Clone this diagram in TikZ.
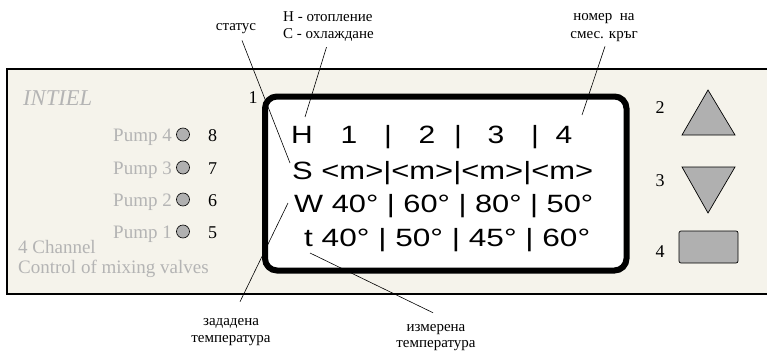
\documentclass[tikz,border=0pt]{standalone}
\usepackage{fontspec}
\setmainfont{Liberation Serif}
\newfontfamily\lcdfont{Liberation Sans}
\usetikzlibrary{calc}
\definecolor{panelbg}{HTML}{F5F3EB}
\definecolor{graytxt}{HTML}{B4B4B4}
\definecolor{btn}{HTML}{B0B0B0}
\tikzset{
  lbl/.style={inner sep=0pt, font=\fontsize{15}{17}\selectfont, anchor=base},
  gtxt/.style={inner sep=0pt, text=graytxt, font=\fontsize{19}{19}\selectfont},
  num/.style={inner sep=0pt, font=\fontsize{18}{18}\selectfont, anchor=base},
  lcd/.style={inner sep=0pt, font=\fontsize{25}{25}\lcdfont, anchor=base west},
  lcdc/.style={inner sep=0pt, font=\fontsize{25}{25}\lcdfont, anchor=base},
  pled/.style={circle, draw=black, line width=0.6pt, fill=btn, minimum size=13pt, inner sep=0pt},
  conn/.style={line width=0.6pt, black},
}
\begin{document}
\begin{tikzpicture}[x=1pt,y=-1pt]
\useasboundingbox (0,0) rectangle (767,353);
% panel
\fill[panelbg] (7,69) rectangle (770,294);
\draw[line width=2pt] (770,69) -- (7,69) -- (7,294) -- (770,294);
% display
\draw[line width=6pt, fill=white, rounded corners=12pt] (265,96.5) rectangle (626.5,270.5);
% display text
\foreach \t/\x [count=\i] in {H/302,1/349,|/388,2/427,|/458,3/496,|/535,4/564}
  \node[lcdc, name=hr\i] at (\x,143) {\resizebox{1.2\width}{\height}{\t}};
\node[lcd] (rowS) at (292,179) {\resizebox{301pt}{\height}{S <m>|<m>|<m>|<m>}};
\node[lcd] (rowW) at (294,212) {\resizebox{299pt}{\height}{W 40° | 60° | 80° | 50°}};
\node[lcd] (rowT) at (304,246) {\resizebox{286pt}{\height}{t 40° | 50° | 45° | 60°}};
% left side
\node[gtxt, anchor=base west, font=\fontsize{22.6}{22.6}\selectfont\itshape] (intiel) at (23,105) {INTIEL};
\foreach \n/\y/\k in {4/141/8,3/174/7,2/206/6,1/238/5}{
  \node[gtxt, anchor=base east] (pump\n) at (172,\y) {Pump \n};
  \node[pled] (led\n) at (183,\y-6.5) {};
  \node[num] (pn\n) at (212.5,\y) {\k};
}
\node[gtxt, anchor=base west] (chan) at (18,253) {4 Channel};
\node[gtxt, anchor=base west] (ctrl) at (18,273) {Control of mixing valves};
\node[num] (one) at (253,103) {1};
% right side buttons
\node[num] (two) at (660,113) {2};
\node[num] (three) at (660,186) {3};
\node[num] (four) at (660,257) {4};
\draw[line width=0.7pt, fill=btn, line join=miter] (708,90) -- (735,135) -- (682,135) -- cycle;
\draw[line width=0.7pt, fill=btn, line join=miter] (682,167) -- (735,167) -- (708,213) -- cycle;
\draw[line width=0.7pt, fill=btn, rounded corners=2pt] (679,231) rectangle (738,263);
% labels
\node[lbl] (stat) at (236,31) {статус};
\node[lbl, anchor=base west] (mode1) at (283,22) {H - отопление};
\node[lbl, anchor=base west] (mode2) at (283,38) {С - охлаждане};
\node[lbl] (nomer1) at (604,21) {номер\ \ на};
\node[lbl] (nomer2) at (604,38) {смес. кръг};
\node[lbl] (zad1) at (231,325) {зададена};
\node[lbl] (zad2) at (231,342) {температура};
\node[lbl] (izm1) at (436,331) {измерена};
\node[lbl] (izm2) at (436,347) {температура};
% connector ends
\coordinate (eS) at (290,163);
\coordinate (eH) at (305,117);
\coordinate (eN) at (582,115);
\coordinate (eW) at (288,203);
\coordinate (eT) at (310,253);
\draw[conn] ([xshift=6pt,yshift=-6pt]stat.south) -- (eS);
\draw[conn] ([xshift=-2pt,yshift=-6pt]mode2.south) -- (eH);
\draw[conn] ([xshift=1pt,yshift=-5pt]nomer2.south) -- (eN);
\draw[conn] ([xshift=9pt,yshift=16pt]zad1.north) -- (eW);
\draw[conn] ([xshift=-3pt,yshift=11pt]izm1.north) -- (eT);
\end{tikzpicture}
\end{document}
